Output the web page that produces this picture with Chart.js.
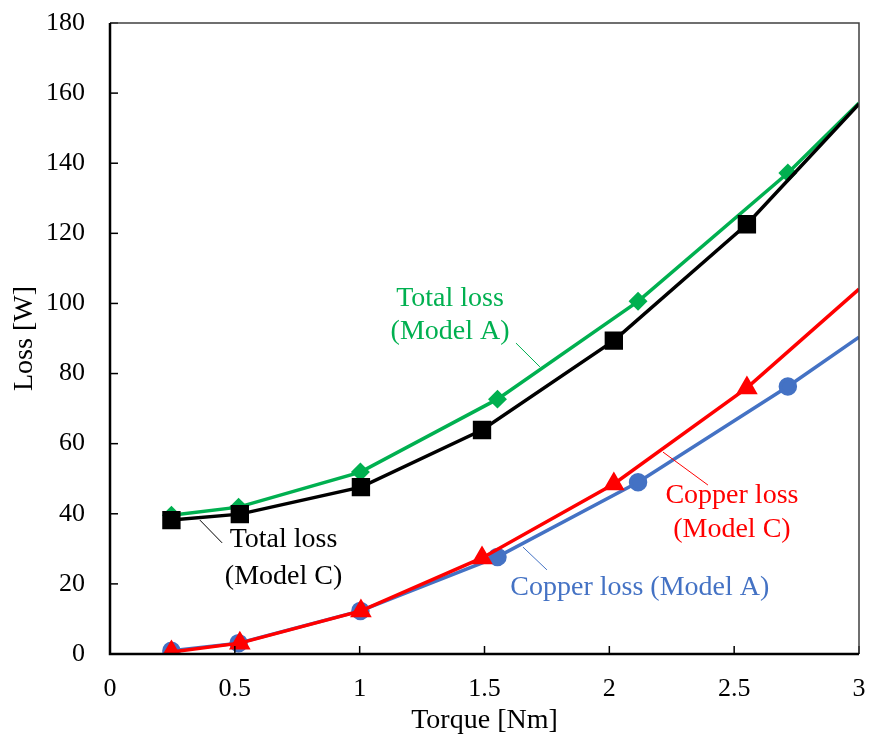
<!DOCTYPE html>
<html>
<head>
<meta charset="utf-8">
<script src="https://cdn.jsdelivr.net/npm/chart.js@4.4.1/dist/chart.umd.min.js"></script>
<style>
  html, body { margin: 0; padding: 0; background: #fff; }
  #wrap { width: 869px; height: 743px; }
</style>
</head>
<body>
<div id="wrap"><canvas id="myChart" width="869" height="743"></canvas></div>
<script>
// torque values [Nm]
const torqueA = [0.246, 0.515, 1.003, 1.552, 2.115, 2.715, 3.0];
const torqueC = [0.246, 0.52, 1.005, 1.49, 2.018, 2.551, 3.0];

// losses [W]
const totalA = [39.6, 41.9, 51.9, 72.7, 100.6, 137.2, 157.2];
const totalC = [38.2, 39.9, 47.6, 63.9, 89.4, 122.6, 156.9];
const copperA = [0.9, 3.1, 12.3, 27.7, 49.0, 76.3, 90.4];
const copperC = [0.6, 3.1, 12.3, 27.4, 48.5, 75.9, 104.1];

const xTicks = [0, 0.5, 1, 1.5, 2, 2.5, 3];
const yTicks = [0, 20, 40, 60, 80, 100, 120, 140, 160, 180];

// text labels (data coordinates) and their leader lines
const labels = [
  { lines: ['Total loss', '(Model A)'], x: 1.362, y: [101.5, 91.9], color: '#00B050', lead: [1.626, 88.7, 1.722, 81.9] },
  { lines: ['Total loss', '(Model C)'], x: 0.695, y: [32.5, 22.2], color: '#000000', lead: [0.360, 38.2, 0.449, 31.7] },
  { lines: ['Copper loss', '(Model C)'], x: 2.491, y: [45.1, 35.4], color: '#FF0000', lead: [2.215, 57.6, 2.395, 48.2] },
  { lines: ['Copper loss (Model A)'], x: 2.122, y: [18.8], color: '#4472C4', lead: [1.654, 30.5, 1.750, 24.0] },
];

const font = 'Liberation Serif';

function pts(xs, ys) {
  return xs.map((x, i) => ({ x: x, y: ys[i] }));
}
// last point sits on the plot edge, no marker there
function radii(n, r) {
  const a = new Array(n).fill(r);
  a[n - 1] = 0;
  return a;
}

const frame = {
  id: 'frame',
  afterDraw(chart) {
    const ctx = chart.ctx;
    const a = chart.chartArea;
    const xs = chart.scales.x, ys = chart.scales.y;
    ctx.save();
    // tick marks pointing inward
    ctx.strokeStyle = '#000';
    ctx.lineWidth = 1.5;
    xTicks.forEach(t => {
      const px = xs.getPixelForValue(t);
      ctx.beginPath(); ctx.moveTo(px, a.bottom); ctx.lineTo(px, a.bottom - 8); ctx.stroke();
    });
    yTicks.forEach(t => {
      const py = ys.getPixelForValue(t);
      ctx.beginPath(); ctx.moveTo(a.left, py); ctx.lineTo(a.left + 8, py); ctx.stroke();
    });
    // box: top/right thin, left/bottom heavier
    ctx.strokeStyle = '#404040';
    ctx.lineWidth = 1.5;
    ctx.beginPath();
    ctx.moveTo(a.left, a.top); ctx.lineTo(a.right, a.top); ctx.lineTo(a.right, a.bottom);
    ctx.stroke();
    ctx.strokeStyle = '#000';
    ctx.lineWidth = 2.5;
    ctx.beginPath();
    ctx.moveTo(a.left, a.top); ctx.lineTo(a.left, a.bottom); ctx.lineTo(a.right, a.bottom);
    ctx.stroke();

    // labels
    ctx.font = '28px "' + font + '"';
    ctx.textAlign = 'center';
    ctx.textBaseline = 'middle';
    labels.forEach(l => {
      ctx.fillStyle = l.color;
      l.lines.forEach((s, i) => {
        ctx.fillText(s, xs.getPixelForValue(l.x), ys.getPixelForValue(l.y[i]));
      });
      ctx.strokeStyle = l.color;
      ctx.lineWidth = 1;
      ctx.beginPath();
      ctx.moveTo(xs.getPixelForValue(l.lead[0]), ys.getPixelForValue(l.lead[1]));
      ctx.lineTo(xs.getPixelForValue(l.lead[2]), ys.getPixelForValue(l.lead[3]));
      ctx.stroke();
    });
    ctx.restore();
  }
};

new Chart(document.getElementById('myChart'), {
  type: 'scatter',
  data: {
    datasets: [{
      label: 'Copper loss (Model C)',
      data: pts(torqueC, copperC),
      showLine: true,
      borderColor: '#FF0000',
      backgroundColor: '#FF0000',
      borderWidth: 3.5,
      pointStyle: 'triangle',
      pointRadius: radii(torqueC.length, 9),
    }, {
      label: 'Total loss (Model C)',
      data: pts(torqueC, totalC),
      showLine: true,
      borderColor: '#000000',
      backgroundColor: '#000000',
      borderWidth: 3.5,
      pointStyle: 'rect',
      pointRadius: radii(torqueC.length, 10.5),
    }, {
      label: 'Copper loss (Model A)',
      data: pts(torqueA, copperA),
      showLine: true,
      borderColor: '#4472C4',
      backgroundColor: '#4472C4',
      borderWidth: 3.5,
      pointStyle: 'circle',
      pointRadius: radii(torqueA.length, 7.5),
    }, {
      label: 'Total loss (Model A)',
      data: pts(torqueA, totalA),
      showLine: true,
      borderColor: '#00B050',
      backgroundColor: '#00B050',
      borderWidth: 3.5,
      pointStyle: 'rectRot',
      pointRadius: radii(torqueA.length, 7),
    }]
  },
  options: {
    responsive: false,
    animation: false,
    layout: { autoPadding: false, padding: { top: 23, right: 10, left: 0, bottom: 0 } },
    plugins: {
      legend: { display: false },
      tooltip: { enabled: false },
    },
    scales: {
      x: {
        type: 'linear',
        min: 0, max: 3,
        afterBuildTicks: s => { s.ticks = xTicks.map(v => ({ value: v })); },
        afterFit: s => { s.height = 89; s.paddingLeft = 0; s.paddingRight = 0; },
        grid: { display: false },
        border: { display: false },
        ticks: {
          color: '#000',
          padding: 12,
          font: { family: font, size: 26 },
          callback: v => String(v),
        },
        title: {
          display: true,
          text: 'Torque [Nm]',
          color: '#000',
          font: { family: font, size: 28 },
          padding: { top: 0, bottom: 6 },
        }
      },
      y: {
        min: 0, max: 180,
        afterBuildTicks: s => { s.ticks = yTicks.map(v => ({ value: v })); },
        afterFit: s => { s.width = 110; s.paddingTop = 0; s.paddingBottom = 0; },
        grid: { display: false },
        border: { display: false },
        ticks: {
          color: '#000',
          padding: 17,
          font: { family: font, size: 26 },
        },
        title: {
          display: true,
          text: 'Loss [W]',
          color: '#000',
          font: { family: font, size: 28 },
          padding: { top: 8, bottom: 0 },
        }
      }
    }
  },
  plugins: [frame]
});
</script>
</body>
</html>
